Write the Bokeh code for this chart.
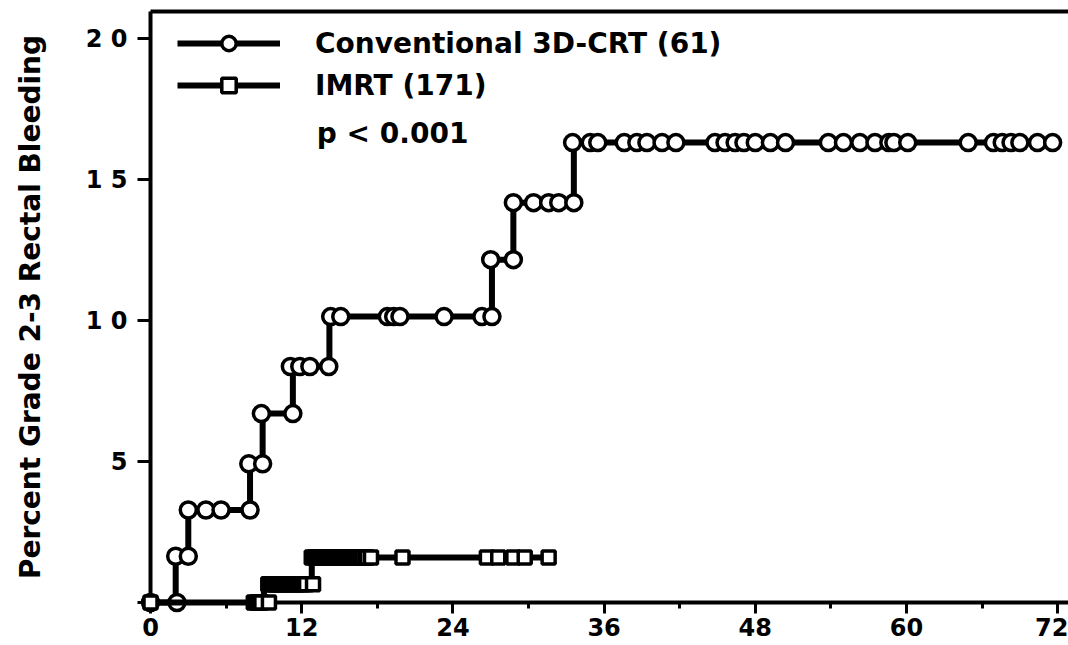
from bokeh.plotting import figure
from bokeh.models import FixedTicker, Legend, LegendItem, Label, LinearAxis
from bokeh.embed import file_html
from bokeh.resources import INLINE

# ---- axis data ----
x_major_ticks = [0, 12, 24, 36, 48, 60, 72]
x_minor_ticks = [6, 18, 30, 42, 54, 66]
y_major_ticks = [0, 5, 10, 15, 20]
y_tick_labels = {0: "", 5: "5", 10: "1 0", 15: "1 5", 20: "2 0"}

# ---- Conventional 3D-CRT (61): step curve (months, percent) ----
conv_step_t = [0, 2.0, 3.0, 7.9, 8.9, 11.3, 14.2, 27.1, 28.8, 33.6, 71.6]
conv_step_y = [0, 1.64, 3.28, 4.92, 6.70, 8.37, 10.14, 12.16, 14.18, 16.31, 16.31]

# circle marks, per level
conv_lvl0_t = [0, 2.1]
conv_lvl1_t = [2.0, 3.0]
conv_lvl2_t = [3.0, 4.4, 5.6, 7.9]
conv_lvl3_t = [7.8, 8.9]
conv_lvl4_t = [8.8, 11.3]
conv_lvl5_t = [11.1, 11.85, 12.65, 14.15]
conv_lvl6_t = [14.3, 15.1, 18.8, 19.3, 19.8, 23.3, 26.3, 27.1]
conv_lvl7_t = [27.0, 28.8]
conv_lvl8_t = [28.8, 30.4, 31.6, 32.4, 33.6]
conv_lvl9_t = [33.5, 34.9, 35.5, 37.6, 38.6, 39.4, 40.6, 41.7, 44.8, 45.6, 46.4,
               47.1, 48.0, 49.2, 50.4, 53.8, 55.0, 56.3, 57.5, 58.6, 59.0, 60.1,
               64.9, 66.9, 67.6, 68.3, 69.0, 70.4, 71.6]

# ---- IMRT (171) ----
imrt_step_t = [0, 9.0, 12.8, 31.6]
imrt_step_y = [0, 0.65, 1.60, 1.60]

imrt_lvl0_t = [0, 8.2, 8.4, 8.6, 8.8, 9.4]
imrt_lvl1_t = [9.35, 9.5, 9.7, 9.95, 10.1, 10.3, 10.5, 10.75, 10.9, 11.1, 11.3,
               11.55, 11.7, 11.9, 12.1, 12.35, 12.9]
imrt_lvl2_t = [12.8, 13.0, 13.2, 13.4, 13.6, 13.85, 14.0, 14.2, 14.4, 14.65, 14.8,
               15.0, 15.2, 15.45, 15.6, 15.8, 16.0, 16.25, 16.4, 16.6, 16.8, 17.05,
               17.2, 17.5, 20.0, 26.7, 27.6, 28.8, 29.7, 31.6]

conv_levels = [(conv_lvl0_t, conv_step_y[0]), (conv_lvl1_t, conv_step_y[1]),
               (conv_lvl2_t, conv_step_y[2]), (conv_lvl3_t, conv_step_y[3]),
               (conv_lvl4_t, conv_step_y[4]), (conv_lvl5_t, conv_step_y[5]),
               (conv_lvl6_t, conv_step_y[6]), (conv_lvl7_t, conv_step_y[7]),
               (conv_lvl8_t, conv_step_y[8]), (conv_lvl9_t, conv_step_y[9])]
conv_mark_t = [t for ts, _ in conv_levels for t in ts]
conv_mark_y = [y for ts, y in conv_levels for _ in ts]

imrt_levels = [(imrt_lvl0_t, imrt_step_y[0]), (imrt_lvl1_t, imrt_step_y[1]),
               (imrt_lvl2_t, imrt_step_y[2])]
imrt_mark_t = [t for ts, _ in imrt_levels for t in ts]
imrt_mark_y = [y for ts, y in imrt_levels for _ in ts]

FONT = "DejaVu Sans"

p = figure(width=1068, height=645, x_range=(0, 72.86), y_range=(0, 20.96),
           output_backend="svg", toolbar_location=None,
           min_border_left=150, min_border_right=0, min_border_top=11,
           min_border_bottom=43)
p.background_fill_color = "white"
p.border_fill_color = "white"
p.xgrid.visible = False
p.ygrid.visible = False
p.outline_line_color = None

# top spine as a bare axis
top = LinearAxis(ticker=FixedTicker(ticks=[], minor_ticks=[]), axis_line_width=4,
                 major_tick_out=0, major_tick_in=0, minor_tick_out=0,
                 minor_tick_in=0, major_label_standoff=0,
                 major_label_text_font_size="0px")
p.add_layout(top, "above")

# axes
xa = p.below[0]
xa.ticker = FixedTicker(ticks=x_major_ticks, minor_ticks=x_minor_ticks)
xa.axis_line_width = 4
xa.major_tick_line_width = 3
xa.minor_tick_line_width = 3
xa.major_tick_out = 11
xa.major_tick_in = 0
xa.minor_tick_out = 6
xa.minor_tick_in = 0
xa.major_label_standoff = 4
xa.major_label_text_font = FONT
xa.major_label_text_font_style = "bold"
xa.major_label_text_font_size = "24px"
xa.major_label_text_color = "black"

ya = p.left[0]
ya.ticker = FixedTicker(ticks=y_major_ticks, minor_ticks=[])
ya.major_label_overrides = y_tick_labels
ya.axis_line_width = 4
ya.major_tick_line_width = 3
ya.major_tick_out = 13
ya.major_tick_in = 0
ya.minor_tick_out = 0
ya.minor_tick_in = 0
ya.major_label_standoff = 10
ya.major_label_text_font = FONT
ya.major_label_text_font_style = "bold"
ya.major_label_text_font_size = "24px"
ya.major_label_text_color = "black"
ya.axis_label = "Percent Grade 2-3 Rectal Bleeding"
ya.axis_label_text_font = FONT
ya.axis_label_text_font_style = "bold"
ya.axis_label_text_font_size = "28px"
ya.axis_label_text_color = "black"
ya.axis_label_standoff = 36

# curves
conv_line = p.step(conv_step_t, conv_step_y, mode="after", line_color="black",
                   line_width=6, level="overlay")
conv_pts = p.scatter(conv_mark_t, conv_mark_y, marker="circle", size=16,
                     fill_color="white", line_color="black", line_width=3.5,
                     level="overlay")
imrt_line = p.step(imrt_step_t, imrt_step_y, mode="after", line_color="black",
                   line_width=6, level="overlay")
imrt_pts = p.scatter(imrt_mark_t, imrt_mark_y, marker="square", size=13,
                     fill_color="white", line_color="black", line_width=3.5,
                     level="overlay")

legend = Legend(items=[
    LegendItem(label="Conventional 3D-CRT (61)", renderers=[conv_line, conv_pts]),
    LegendItem(label="IMRT (171)", renderers=[imrt_line, imrt_pts]),
], location=(27, 499))
legend.padding = 0
legend.margin = 0
legend.spacing = 6
legend.glyph_width = 103
legend.glyph_height = 36
legend.label_standoff = 35
legend.label_text_font = FONT
legend.label_text_font_style = "bold"
legend.label_text_font_size = "28px"
legend.label_text_color = "black"
legend.border_line_alpha = 0
legend.background_fill_alpha = 0
p.add_layout(legend)

p.add_layout(Label(x=13.2, y=16.63, text="p < 0.001", text_font=FONT,
                   text_font_style="bold", text_font_size="28px",
                   text_color="black", text_baseline="alphabetic"))

open("out.html", "w").write(file_html(p, INLINE))
